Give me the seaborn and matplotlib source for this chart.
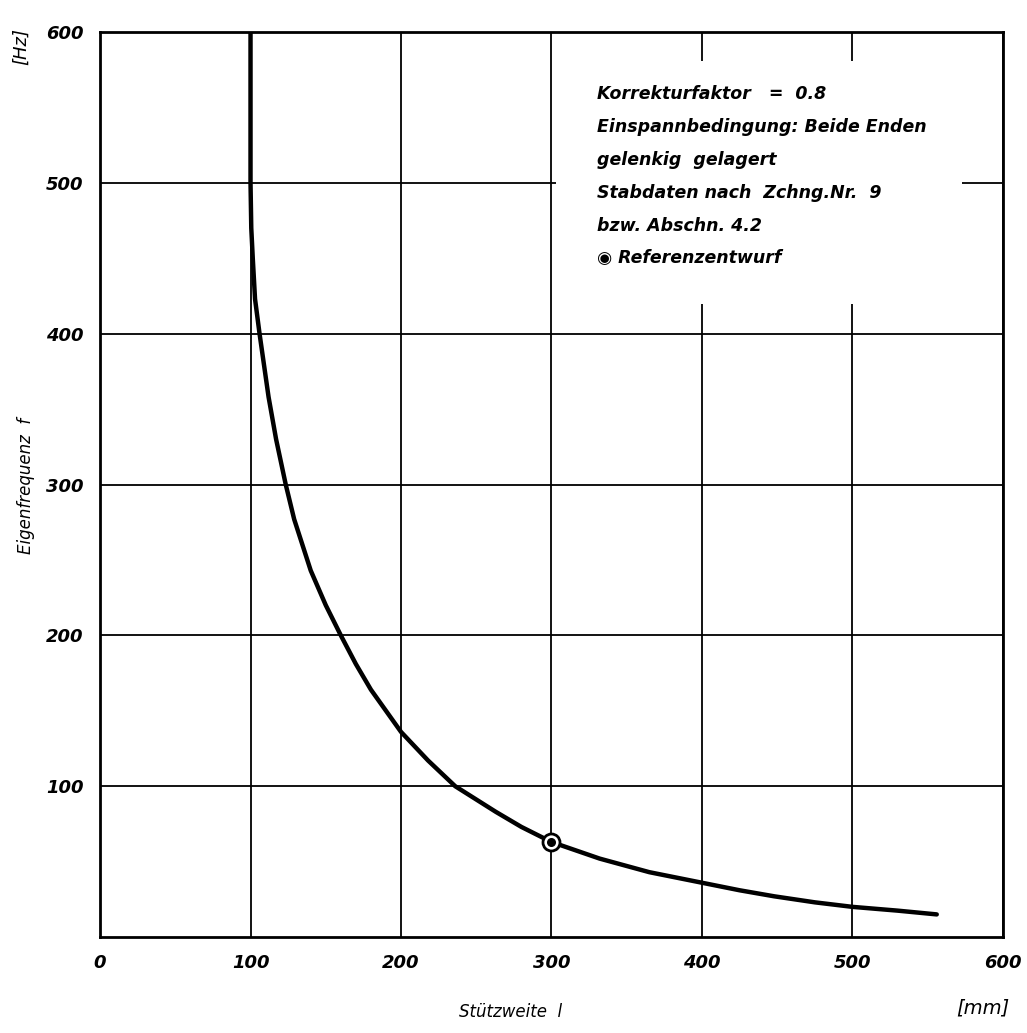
import matplotlib
matplotlib.use("Agg")
import matplotlib.pyplot as plt
import seaborn as sns
import pandas as pd

stuetzweite = [100, 100, 100.5, 101.5, 103, 106, 112, 117, 123.4, 129, 140, 150, 160,
               170, 180, 200, 218, 236, 263, 280, 300, 332, 365, 400, 425, 448,
               475, 500, 530, 556]
frequenz = [600, 500, 470, 450, 423, 400, 358, 330, 300, 277, 243, 220, 200,
            181, 164, 136, 117, 100, 83, 73, 63, 52, 43, 36, 31, 27,
            23, 20, 17.5, 15]

# Referenzentwurf
ref_l = [300]
ref_f = [63]

x_ticks = [0, 100, 200, 300, 400, 500, 600]
y_ticks = [100, 200, 300, 400, 500, 600]

info_zeilen = [
    "Korrekturfaktor   =  0.8",
    "Einspannbedingung: Beide Enden",
    "gelenkig  gelagert",
    "Stabdaten nach  Zchng.Nr.  9",
    "bzw. Abschn. 4.2",
    "\u25c9 Referenzentwurf",
]

df = pd.DataFrame({"l": stuetzweite, "f": frequenz})

sns.set_style("white")
plt.rcParams['font.family'] = ['DejaVu Sans']
plt.rcParams['text.color'] = 'black'
plt.rcParams['xtick.color'] = 'black'
plt.rcParams['ytick.color'] = 'black'

fig = plt.figure(figsize=(10.27, 10.33), dpi=100)
ax = fig.add_axes([0.0974, 0.0929, 0.8792, 0.8761])

sns.lineplot(data=df, x="l", y="f", sort=False, estimator=None, color="black",
             linewidth=3.2, ax=ax, zorder=5)
ax.scatter(ref_l, ref_f, s=150, facecolor="white", edgecolor="black",
           linewidth=2, zorder=6)
ax.scatter(ref_l, ref_f, s=30, color="black", zorder=7)

ax.set_xlim(0, 600)
ax.set_ylim(0, 600)
ax.set_xticks(x_ticks)
ax.set_yticks(y_ticks)
ax.set_xticklabels([str(v) for v in x_ticks], fontsize=13, style="italic",
                   fontweight="bold")
ax.set_yticklabels([str(v) for v in y_ticks], fontsize=13, style="italic",
                   fontweight="bold")
ax.tick_params(length=0, pad=12)
ax.grid(True, color="black", linewidth=1.3)
for s in ax.spines.values():
    s.set_color("black")
    s.set_linewidth(2)
ax.set_xlabel("")
ax.set_ylabel("")

# weisses Feld fuer die Beschriftung
ax.add_patch(plt.Rectangle((303, 420), 270, 161, facecolor="white",
                           edgecolor="none", zorder=3))
for i, zeile in enumerate(info_zeilen):
    ax.text(0.550, 0.931 - i * 0.0362, zeile, transform=ax.transAxes,
            fontsize=12.5, style="italic", fontweight="bold", va="center",
            ha="left", zorder=4)

fig.text(0.02, 0.955, "[Hz]", rotation=90, fontsize=13, style="italic",
         va="center", ha="center")
fig.text(0.025, 0.53, "Eigenfrequenz  f", rotation=90, fontsize=12,
         style="italic", va="center", ha="center")
fig.text(0.497, 0.02, "Stützweite  l", fontsize=12, style="italic",
         va="center", ha="center")
fig.text(0.957, 0.024, "[mm]", fontsize=14, style="italic",
         va="center", ha="center")

fig.savefig("out.png", dpi=100)
